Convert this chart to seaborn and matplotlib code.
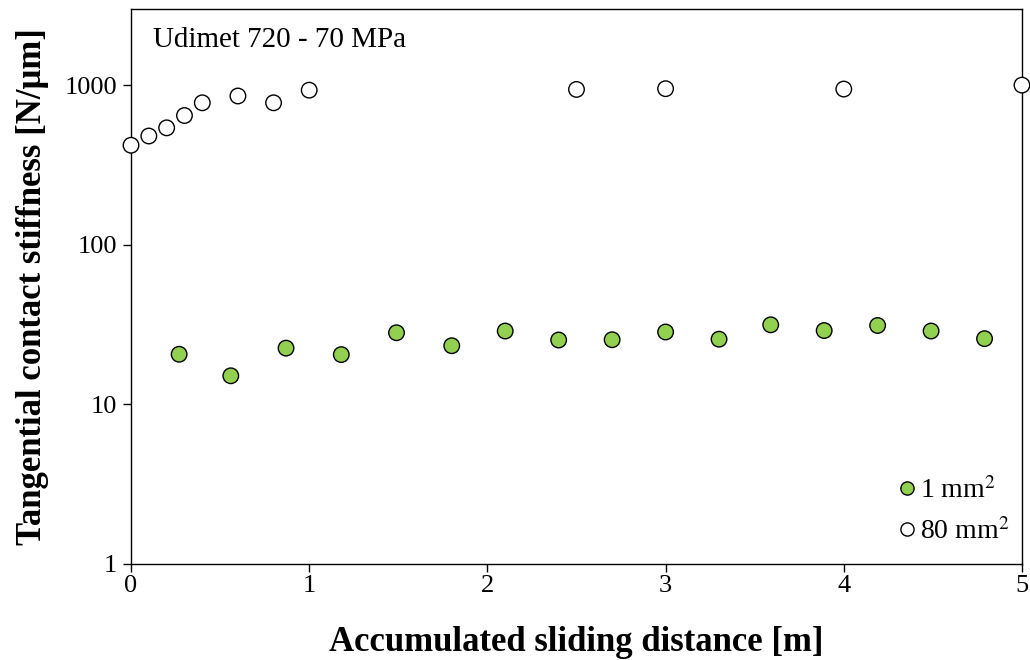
import matplotlib
matplotlib.use("Agg")
import matplotlib.pyplot as plt
from matplotlib.ticker import FixedLocator, FuncFormatter, NullLocator
import seaborn as sns
import pandas as pd

# Contact stiffness vs. accumulated sliding distance, two nominal contact areas
dist_1mm2 = [0.27, 0.56, 0.87, 1.18, 1.49, 1.80, 2.10, 2.40, 2.70, 3.00,
             3.30, 3.59, 3.89, 4.19, 4.49, 4.79]
stiff_1mm2 = [20.6, 15.1, 22.5, 20.5, 28.1, 23.3, 28.8, 25.3, 25.4, 28.4,
              25.6, 31.5, 29.0, 31.2, 28.8, 25.8]

dist_80mm2 = [0.0, 0.1, 0.2, 0.3, 0.4, 0.6, 0.8, 1.0, 2.5, 3.0, 4.0, 5.0]
stiff_80mm2 = [420, 480, 540, 645, 775, 855, 775, 930, 940, 950, 945, 1000]

x_ticks = [0, 1, 2, 3, 4, 5]
y_ticks = [1, 10, 100, 1000]
series_labels = ["1 mm$^{2}$", "80 mm$^{2}$"]

sns.set_style("white")
plt.rcParams["font.family"] = ["Liberation Serif", "DejaVu Serif"]
plt.rcParams["mathtext.fontset"] = "stix"
for key in ["text.color", "axes.labelcolor", "xtick.color", "ytick.color"]:
    plt.rcParams[key] = "black"

df = pd.concat([
    pd.DataFrame({"dist": dist_1mm2, "stiff": stiff_1mm2, "area": series_labels[0]}),
    pd.DataFrame({"dist": dist_80mm2, "stiff": stiff_80mm2, "area": series_labels[1]}),
])

fig = plt.figure(figsize=(10.3, 6.6), dpi=100)
ax = fig.add_axes([0.1272, 0.1455, 0.865, 0.8409])

sns.scatterplot(data=df, x="dist", y="stiff", hue="area",
                palette={series_labels[0]: "#92D050", series_labels[1]: "white"},
                s=125, edgecolor="black", linewidth=1.0, ax=ax, legend=True,
                clip_on=False, zorder=3)

ax.set_yscale("log")
ax.set_xlim(0, 5)
ax.set_ylim(1, 3000)
ax.xaxis.set_major_locator(FixedLocator(x_ticks))
ax.yaxis.set_major_locator(FixedLocator(y_ticks))
ax.yaxis.set_minor_locator(NullLocator())
ax.yaxis.set_major_formatter(FuncFormatter(lambda v, p: f"{v:g}"))
ax.xaxis.set_major_formatter(FuncFormatter(lambda v, p: f"{v:g}"))

for side in ["left", "right", "top", "bottom"]:
    ax.spines[side].set_visible(True)
    ax.spines[side].set_color("black")
    ax.spines[side].set_linewidth(1.0)

ax.tick_params(axis="both", which="major", direction="out", length=6,
               width=1.0, color="black", labelsize=19, pad=4,
               bottom=True, left=True, top=False, right=False)
ax.tick_params(axis="x", pad=2)

ax.set_xlabel("Accumulated sliding distance [m]", fontsize=25,
              fontweight="bold", labelpad=21)
ax.set_ylabel("Tangential contact stiffness [N/\u03bcm]", fontsize=25,
              fontweight="bold", labelpad=11)

ax.text(0.025, 0.945, "Udimet 720 - 70 MPa", transform=ax.transAxes,
        fontsize=21, ha="left", va="center")

leg = ax.legend(loc="lower right", frameon=False, fontsize=20,
                handletextpad=0.15, handlelength=0.6, borderaxespad=0.05,
                labelspacing=0.5, markerscale=0.85,
                bbox_to_anchor=(1.0, 0.012))
for h in leg.legend_handles:
    if hasattr(h, "set_markeredgecolor"):
        h.set_markeredgecolor("black")
    else:
        h.set_edgecolor("black")

fig.savefig("out.png", dpi=100)
